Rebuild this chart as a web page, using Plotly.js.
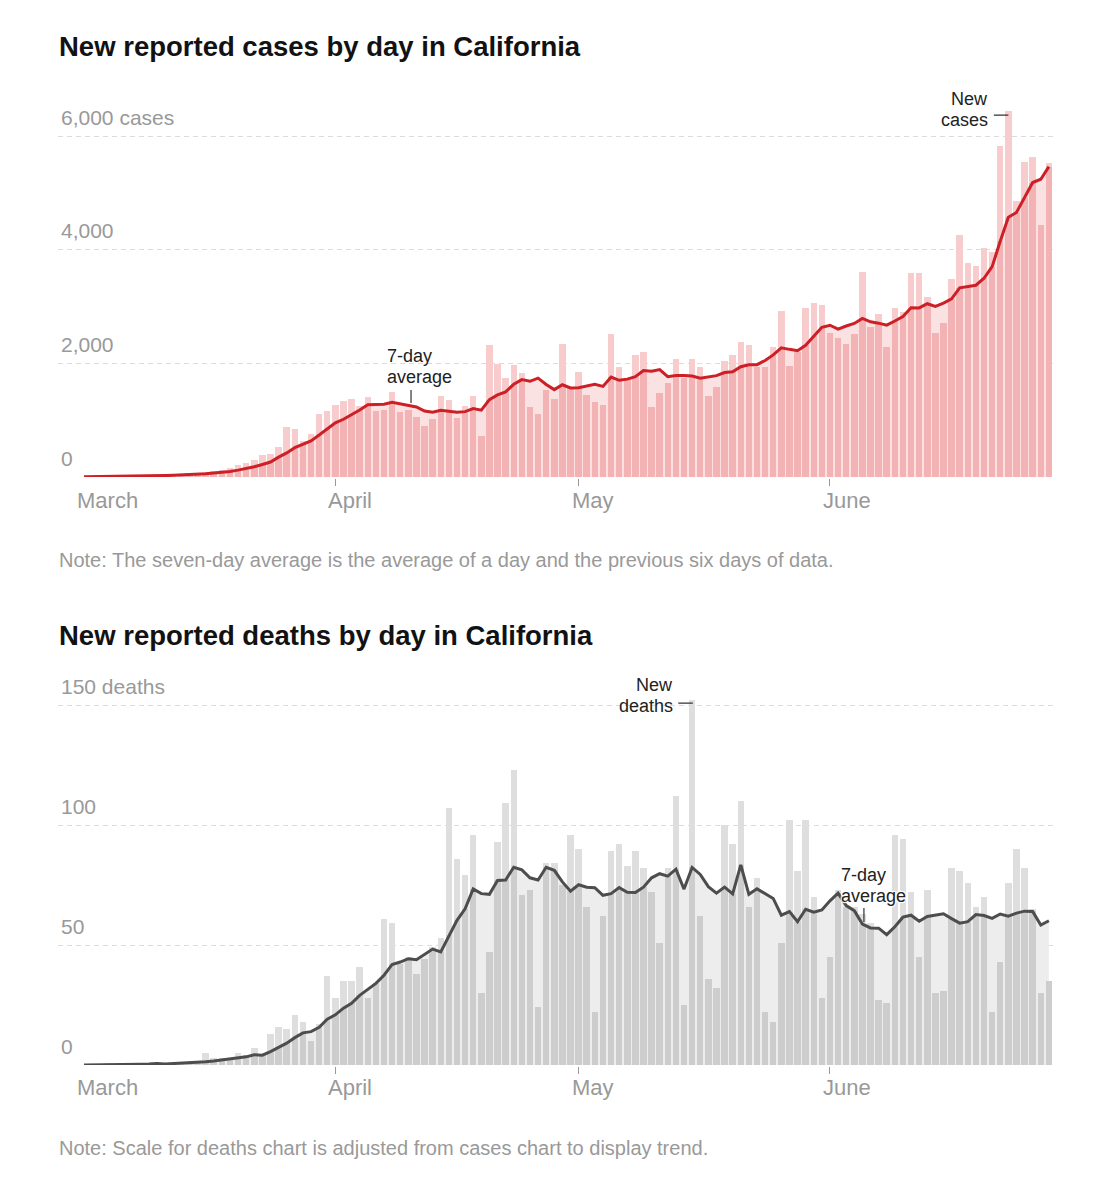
<!DOCTYPE html>
<html>
<head>
<meta charset="utf-8">
<script src="https://cdn.plot.ly/plotly-3.0.1.min.js"></script>
<style>html,body{margin:0;padding:0;background:#fff;}</style>
</head>
<body>
<div id="chart" style="width:1095px;height:1200px;"></div>
<script>
const dates = [
'2020-03-01','2020-03-02','2020-03-03','2020-03-04','2020-03-05','2020-03-06','2020-03-07','2020-03-08','2020-03-09','2020-03-10',
'2020-03-11','2020-03-12','2020-03-13','2020-03-14','2020-03-15','2020-03-16','2020-03-17','2020-03-18','2020-03-19','2020-03-20',
'2020-03-21','2020-03-22','2020-03-23','2020-03-24','2020-03-25','2020-03-26','2020-03-27','2020-03-28','2020-03-29','2020-03-30','2020-03-31',
'2020-04-01','2020-04-02','2020-04-03','2020-04-04','2020-04-05','2020-04-06','2020-04-07','2020-04-08','2020-04-09','2020-04-10',
'2020-04-11','2020-04-12','2020-04-13','2020-04-14','2020-04-15','2020-04-16','2020-04-17','2020-04-18','2020-04-19','2020-04-20',
'2020-04-21','2020-04-22','2020-04-23','2020-04-24','2020-04-25','2020-04-26','2020-04-27','2020-04-28','2020-04-29','2020-04-30',
'2020-05-01','2020-05-02','2020-05-03','2020-05-04','2020-05-05','2020-05-06','2020-05-07','2020-05-08','2020-05-09','2020-05-10',
'2020-05-11','2020-05-12','2020-05-13','2020-05-14','2020-05-15','2020-05-16','2020-05-17','2020-05-18','2020-05-19','2020-05-20',
'2020-05-21','2020-05-22','2020-05-23','2020-05-24','2020-05-25','2020-05-26','2020-05-27','2020-05-28','2020-05-29','2020-05-30','2020-05-31',
'2020-06-01','2020-06-02','2020-06-03','2020-06-04','2020-06-05','2020-06-06','2020-06-07','2020-06-08','2020-06-09','2020-06-10',
'2020-06-11','2020-06-12','2020-06-13','2020-06-14','2020-06-15','2020-06-16','2020-06-17','2020-06-18','2020-06-19','2020-06-20',
'2020-06-21','2020-06-22','2020-06-23','2020-06-24','2020-06-25','2020-06-26','2020-06-27','2020-06-28'
];

const newCases = [
5,10,15,20,12,25,20,20,30,25,40,45,50,70,70,95,110,130,160,211,252,299,387,404,533,
885,850,639,756,1102,1160,1272,1331,1378,1250,1407,1160,1178,1500,1149,1178,1058,903,1014,1425,1354,1038,1255,1430,715,
2320,1995,1735,1964,1835,1225,1108,1525,1370,2335,1575,1847,1440,1322,1266,2515,1940,1724,2140,2207,1234,1470,1648,2072,1735,
2072,1930,1433,1589,2040,2152,2369,2316,1941,1940,2281,2920,1958,2204,2978,3066,3025,2539,2451,2334,2515,3603,2644,2861,2292,
2967,2896,3582,3582,3160,2527,2714,3483,4257,3758,3717,4022,3963,5828,6437,4855,5535,5628,4432,5517
];

const casesAvg = [
4,5,7,9,10,13,15,17,20,22,25,29,33,40,47,56,69,81,98,121,147,180,221,263,349,
424,516,571,636,738,846,952,1016,1091,1178,1271,1280,1282,1315,1289,1260,1233,1161,1140,1175,1154,1139,1150,1203,1176,
1362,1444,1498,1631,1713,1684,1740,1627,1537,1623,1568,1569,1600,1631,1594,1757,1701,1722,1764,1873,1861,1890,1766,1785,1787,
1777,1737,1766,1783,1839,1850,1941,1976,1977,2050,2148,2274,2246,2223,2317,2478,2633,2670,2603,2657,2701,2790,2730,2707,2671,
2745,2825,2978,2975,3049,3001,3061,3135,3329,3354,3374,3497,3702,4147,4569,4654,4908,5181,5240,5462
];

const newDeaths = [
0,0,0,1,0,1,0,0,1,1,0,1,1,1,1,5,3,3,3,5,4,7,4,13,16,
15,21,18,10,17,37,28,35,35,41,28,34,61,59,42,45,38,44,49,53,107,86,79,96,30,
47,93,109,123,71,73,24,84,84,75,96,90,66,22,62,89,92,83,89,82,72,51,82,112,25,
152,62,36,32,100,92,110,66,78,22,18,51,102,81,102,70,28,45,73,66,66,63,59,27,26,
96,94,72,45,73,30,31,82,81,76,66,70,22,43,76,90,82,65,30,35
];

const deathsAvg = [
0,0,0,0.1,0.1,0.3,0.3,0.3,0.4,0.6,0.4,0.6,0.6,0.7,0.9,1.4,1.7,2.1,2.4,3.0,3.4,4.3,4.1,5.6,7.4,
9.1,11.4,13.4,13.9,15.7,19.1,20.9,23.7,25.7,29.0,31.6,34.0,37.4,41.9,42.9,44.3,43.9,46.1,48.3,47.1,54.0,60.3,65.1,73.4,71.4,
71.1,76.9,77.1,82.4,81.3,78.0,77.1,82.4,81.1,76.3,72.4,75.1,74.1,73.9,70.7,71.4,73.9,72.0,71.9,74.1,78.0,79.7,78.7,81.6,73.3,
82.3,79.4,74.3,71.6,74.1,71.3,83.4,71.1,73.4,71.4,69.4,62.4,63.9,59.7,64.9,63.7,64.6,68.4,71.6,66.4,64.3,58.7,57.1,57.0,54.3,
57.6,61.6,62.4,59.9,61.9,62.3,63.0,61.0,59.1,59.7,62.7,62.3,61.1,62.9,62.0,63.3,64.1,64.0,58.3,60.1
];

const monthTicks = ['2020-03-01','2020-04-01','2020-05-01','2020-06-01'];
const monthLabels = ['March','April','May','June'];
const casesTickVals = [0,2000,4000,6000];
const casesTickText = ['0','2,000','4,000','6,000 cases'];
const deathsTickVals = [0,50,100,150];
const deathsTickText = ['0','50','100','150 deaths'];

const FONT = 'Liberation Sans, Arial, sans-serif';

function belowPart(v, a) { return v.map((x, i) => Math.min(x, a[i])); }
function abovePart(v, a) { return v.map((x, i) => Math.max(x - a[i], 0)); }

const traces = [
  {type:'scatter', x:dates, y:casesAvg, xaxis:'x', yaxis:'y', mode:'lines',
   line:{width:0, color:'rgba(0,0,0,0)'}, fill:'tozeroy', fillcolor:'#fbe2e2', zorder:0, hoverinfo:'skip'},
  {type:'bar', x:dates, y:belowPart(newCases, casesAvg), xaxis:'x', yaxis:'y',
   marker:{color:'#f3b3b5', line:{width:0}}, zorder:1},
  {type:'bar', x:dates, y:abovePart(newCases, casesAvg), xaxis:'x', yaxis:'y',
   marker:{color:'#f8cbcc', line:{width:0}}, zorder:1},
  {type:'scatter', x:dates, y:casesAvg, xaxis:'x', yaxis:'y', mode:'lines',
   line:{color:'#cc1f26', width:3, shape:'linear'}, zorder:2},

  {type:'scatter', x:dates, y:deathsAvg, xaxis:'x2', yaxis:'y2', mode:'lines',
   line:{width:0, color:'rgba(0,0,0,0)'}, fill:'tozeroy', fillcolor:'#ededed', zorder:0, hoverinfo:'skip'},
  {type:'bar', x:dates, y:belowPart(newDeaths, deathsAvg), xaxis:'x2', yaxis:'y2',
   marker:{color:'#cdcdcd', line:{width:0}}, zorder:1},
  {type:'bar', x:dates, y:abovePart(newDeaths, deathsAvg), xaxis:'x2', yaxis:'y2',
   marker:{color:'#dedede', line:{width:0}}, zorder:1},
  {type:'scatter', x:dates, y:deathsAvg, xaxis:'x2', yaxis:'y2', mode:'lines',
   line:{color:'#4d4d4d', width:3, shape:'linear'}, zorder:2}
];

const xRange = ['2020-02-26 19:03', '2020-06-29 00:00'];

function xAxis(anchor) {
  return {
    domain:[0,1], anchor:anchor, type:'date', range:xRange,
    tickvals:monthTicks, showticklabels:false,
    ticks:'outside', ticklen:7, tickwidth:1, tickcolor:'#999',
    showgrid:false, zeroline:false,
    showline:true, linecolor:'#d4d4d4', linewidth:2
  };
}
function yAxis(anchor, domain, range, vals, text, shift) {
  return {
    domain:domain, anchor:anchor, range:range,
    tickvals:vals, ticktext:text, ticks:'',
    ticklabelposition:'inside top', ticklabelshift:shift,
    tickfont:{family:FONT, size:21, color:'#999'},
    showgrid:true, gridcolor:'#dcdcdc', gridwidth:1, griddash:'5px,4px',
    zeroline:false, showline:false
  };
}

const W = 999, H = 1200, L = 58;
function px(xp) { return (xp - L) / W; }
function py(yp) { return 1 - yp / H; }

const annotations = [];
function addText(text, xp, yp, xanchor, size, color, extraFont) {
  annotations.push({
    text:text, xref:'paper', yref:'paper', x:px(xp), y:py(yp),
    xanchor:xanchor, yanchor:'middle', showarrow:false,
    font:Object.assign({family:FONT, size:size, color:color}, extraFont || {})
  });
}
// titles and notes
addText('<b>New reported cases by day in California</b>', 57, 46, 'left', 27.5, '#121212');
addText('Note: The seven-day average is the average of a day and the previous six days of data.', 57, 560, 'left', 20, '#999');
addText('<b>New reported deaths by day in California</b>', 57, 635, 'left', 27.5, '#121212');
addText('Note: Scale for deaths chart is adjusted from cases chart to display trend.', 57, 1148, 'left', 20, '#999');

// month labels
monthTicks.forEach((d, i) => {
  annotations.push({text:monthLabels[i], xref:'x', yref:'paper', x:d, y:py(500), xanchor:'left', yanchor:'middle',
    xshift:-9, showarrow:false, font:{family:FONT, size:22, color:'#999'}});
  annotations.push({text:monthLabels[i], xref:'x2', yref:'paper', x:d, y:py(1087), xanchor:'left', yanchor:'middle',
    xshift:-9, showarrow:false, font:{family:FONT, size:22, color:'#999'}});
});

// series labels
const halo = {shadow:'white 1px 1px 1px, white -1px -1px 1px, white 1px -1px 1px, white -1px 1px 1px'};
addText('7-day', 385, 356, 'left', 18, '#222');
addText('average', 385, 377, 'left', 18, '#222');
addText('New', 990, 99, 'right', 18, '#222');
addText('cases', 990, 120, 'right', 18, '#222');
addText('New', 675, 685, 'right', 18, '#222');
addText('deaths', 675, 706, 'right', 18, '#222');
addText('7-day', 839, 875, 'left', 18, '#222', halo);
addText('average', 839, 896, 'left', 18, '#222', halo);

const arrowBase = {text:' ', showarrow:true, arrowhead:0, arrowwidth:1.2, arrowcolor:'#333', standoff:0, font:{size:1}};
annotations.push(Object.assign({}, arrowBase, {xref:'x', yref:'y', x:'2020-04-10 08:00', y:1302, ax:0, ay:-15}));
annotations.push(Object.assign({}, arrowBase, {xref:'x', yref:'y', x:'2020-06-23', y:6368, ax:-16, ay:0}));
annotations.push(Object.assign({}, arrowBase, {xref:'x2', yref:'y2', x:'2020-05-15 02:00', y:150.8, ax:-16, ay:0}));
annotations.push(Object.assign({}, arrowBase, {xref:'x2', yref:'y2', x:'2020-06-05 04:30', y:59.6, ax:0, ay:-16}));

const layout = {
  width:1095, height:1200,
  margin:{l:58, r:38, t:0, b:0},
  paper_bgcolor:'#ffffff', plot_bgcolor:'#ffffff',
  showlegend:false, barmode:'stack', bargap:0.2,
  hovermode:false,
  xaxis:xAxis('y'),
  yaxis:yAxis('x', [0.6025, 0.91508], [0, 6600], casesTickVals, casesTickText, -4),
  xaxis2:xAxis('y2'),
  yaxis2:yAxis('x2', [0.1125, 0.4485], [0, 168], deathsTickVals, deathsTickText, -4),
  annotations:annotations,
  font:{family:FONT}
};

Plotly.newPlot('chart', traces, layout, {staticPlot:true, displayModeBar:false});
</script>
</body>
</html>
